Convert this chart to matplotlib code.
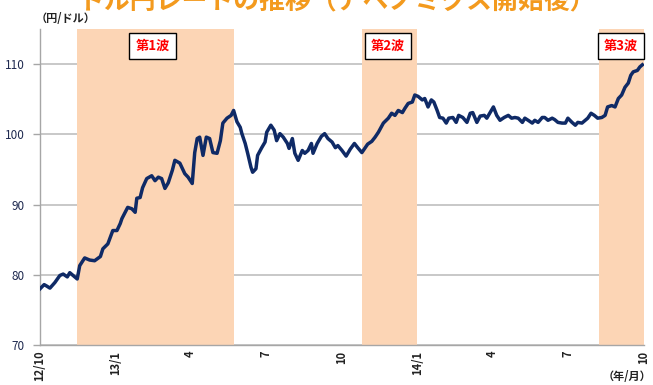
import pandas as pd
import numpy as np
import matplotlib
matplotlib.use('Agg')
import matplotlib.pyplot as plt
import matplotlib.dates as mdates

plt.rcParams['font.family'] = ['Noto Sans CJK JP', 'DejaVu Sans']

# USD/JPY, days counted from 2012/10/1
start = pd.Timestamp('2012-10-01')
days = [0, 5, 8, 12, 18, 24, 28, 33, 36, 40, 45, 48, 54, 60, 66, 73, 76, 82, 88, 93,
	97, 99, 103, 106, 111, 115, 117, 121, 124, 129, 135, 139, 143, 147, 151, 155, 160, 163, 169, 175,
	179, 184, 187, 190, 193, 197, 201, 205, 209, 214, 218, 221, 226, 231, 234, 238, 242, 244, 248, 251,
	255, 257, 261, 263, 268, 272, 274, 279, 283, 286, 290, 294, 299, 301, 305, 308, 312, 317, 320, 324,
	328, 330, 335, 340, 344, 348, 353, 357, 360, 365, 370, 375, 380, 384, 389, 393, 396, 401, 405, 409,
	415, 421, 425, 429, 433, 438, 441, 445, 450, 453, 457, 462, 465, 469, 473, 476, 480, 483, 487, 491,
	494, 499, 503, 506, 511, 516, 520, 523, 528, 532, 537, 540, 544, 548, 552, 556, 561, 566, 570, 574,
	578, 583, 586, 590, 595, 598, 602, 607, 610, 614, 619, 622, 626, 631, 635, 638, 643, 647, 650, 655,
	659, 662, 666, 670, 674, 679, 683, 686, 691, 695, 699, 703, 707, 711, 714, 717, 722, 725, 728]
usd_jpy = [78.0, 78.6, 78.4, 78.1, 78.9, 79.9, 80.1, 79.7, 80.3, 79.9, 79.4, 81.3, 82.4, 82.1, 82.0, 82.6, 83.7, 84.4, 86.3, 86.3,
	87.3, 88.0, 88.9, 89.6, 89.4, 88.9, 90.9, 91.0, 92.4, 93.7, 94.1, 93.4, 93.9, 93.7, 92.3, 93.1, 94.9, 96.3, 95.9, 94.4,
	93.9, 93.0, 97.4, 99.4, 99.6, 97.0, 99.6, 99.4, 97.4, 97.3, 99.1, 101.6, 102.3, 102.7, 103.4, 101.8, 101.0, 100.1, 98.7, 97.3,
	95.3, 94.6, 95.1, 97.0, 98.1, 98.9, 100.3, 101.3, 100.6, 99.1, 100.1, 99.6, 98.7, 98.0, 99.4, 97.3, 96.3, 97.7, 97.3, 97.7,
	98.7, 97.3, 98.7, 99.7, 100.1, 99.4, 98.9, 98.1, 98.4, 97.7, 96.9, 97.9, 98.7, 98.1, 97.4, 98.1, 98.6, 99.0, 99.6, 100.3,
	101.6, 102.3, 103.0, 102.7, 103.4, 103.1, 103.7, 104.4, 104.6, 105.6, 105.4, 104.9, 105.1, 103.9, 104.9, 104.6, 103.4, 102.4, 102.3, 101.6,
	102.3, 102.4, 101.7, 102.7, 102.4, 101.7, 103.0, 103.1, 101.7, 102.6, 102.7, 102.3, 103.1, 103.9, 102.7, 102.0, 102.4, 102.7, 102.3, 102.4,
	102.3, 101.7, 102.3, 102.0, 101.6, 102.0, 101.7, 102.4, 102.4, 102.0, 102.3, 102.1, 101.7, 101.6, 101.6, 102.3, 101.7, 101.3, 101.7, 101.6,
	102.0, 102.3, 103.0, 102.7, 102.3, 102.4, 102.7, 103.9, 104.1, 103.9, 105.1, 105.6, 106.7, 107.3, 108.4, 108.9, 109.1, 109.6, 109.9]

# shaded periods and their labels
wave_starts = ['2012-11-15', '2013-10-25', '2014-08-08']
wave_ends = ['2013-05-24', '2013-12-31', '2014-10-01']
wave_labels = ['第1波', '第2波', '第3波']
wave_label_dates = ['2013-02-14', '2013-11-26', '2014-09-03']

tick_dates = ['2012-10-01', '2013-01-01', '2013-04-01', '2013-07-01', '2013-10-01',
	'2014-01-01', '2014-04-01', '2014-07-01', '2014-10-01']
tick_labels = ['12/10', '13/1', '4', '7', '10', '14/1', '4', '7', '10']

dates = start + pd.to_timedelta(days, unit='D')

fig = plt.figure(figsize=(6.53, 3.85), dpi=100)
ax = fig.add_axes([40/653, 1 - 345/385, 604/653, 316/385])

ax.set_axisbelow(True)
ax.grid(axis='y', color='#BFBFBF', linewidth=1.2)

for s, e in zip(wave_starts, wave_ends):
	ax.axvspan(pd.Timestamp(s), pd.Timestamp(e), color='#FCD5B5', linewidth=0, zorder=1)

ax.plot(dates, usd_jpy, color='#0F2A66', linewidth=2.5, zorder=3, solid_joinstyle='round')

for lab, d in zip(wave_labels, wave_label_dates):
	ax.text(pd.Timestamp(d), 112.6, lab, color='#FF0000', fontsize=9.5, fontweight='bold',
		ha='center', va='center', zorder=4,
		bbox=dict(boxstyle='square,pad=0.45', facecolor='white', edgecolor='black', linewidth=1))

ax.set_xlim(pd.Timestamp('2012-10-01'), pd.Timestamp('2014-10-01'))
ax.set_ylim(70, 115)
ax.set_yticks([70, 80, 90, 100, 110])
ax.set_xticks([pd.Timestamp(t) for t in tick_dates])
ax.set_xticklabels(tick_labels, rotation=90, fontweight='bold', fontsize=8, color='#222222')
ax.tick_params(axis='x', length=0, pad=4)
ax.tick_params(axis='y', length=5, width=1, color='#A6A6A6', pad=6, labelsize=8.5, labelcolor='#1F2A50')

for side in ['top', 'right']:
	ax.spines[side].set_visible(False)
for side in ['left', 'bottom']:
	ax.spines[side].set_color('#A6A6A6')
	ax.spines[side].set_linewidth(1)

# title is partly cut off at the top of the picture
fig.text(0.517, 0.998, 'ドル円レートの推移（アベノミクス開始後）', color='#F39A1E',
	fontsize=18.6, fontweight='bold', ha='center', va='center')
fig.text(36/653, 1 - 19/385, '（円/ドル）', fontsize=8, fontweight='bold', ha='left', va='center', color='#222222')
fig.text(651/653, 1 - 376/385, '（年/月）', fontsize=8, fontweight='bold', ha='right', va='center', color='#222222')

fig.savefig('out.png', dpi=100)
